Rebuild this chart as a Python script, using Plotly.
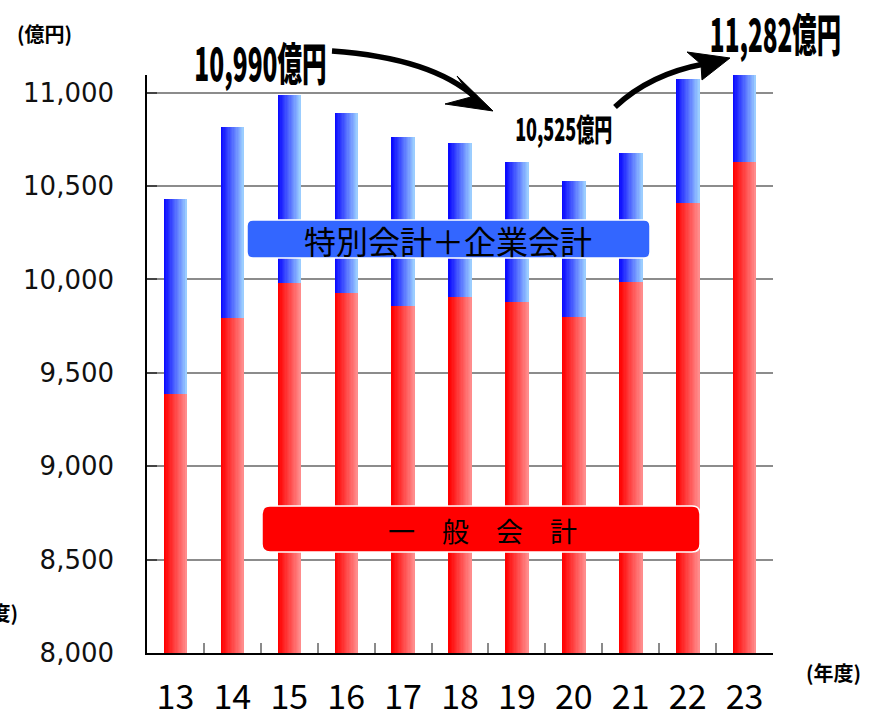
import json
import plotly.graph_objects as go

# Fiscal years (Heisei) and budget totals, in 100 million yen
years = ["13", "14", "15", "16", "17", "18", "19", "20", "21", "22", "23"]
total_budget = [10429, 10817, 10990, 10892, 10763, 10731, 10629, 10525, 10676, 11072, 11282]
general_account = [9385, 9794, 9981, 9928, 9858, 9906, 9879, 9799, 9986, 10410, 10628]
special_and_enterprise = [t - g for t, g in zip(total_budget, general_account)]

y_ticks = [8000, 8500, 9000, 9500, 10000, 10500, 11000]

W, H = 872, 720
PL, PR, PT, PB = 147, 773, 75, 653


def px(x):
    return (x - PL) / (PR - PL)


def py(y):
    return (PB - y) / (PB - PT)


def path(cmds):
    out = []
    for c in cmds:
        if isinstance(c, str):
            out.append(c)
        else:
            out.append(f"{px(c[0]):.5f},{py(c[1]):.5f}")
    return " ".join(out)


def rounded_rect(x0, y0, x1, y1, r):
    return path([
        "M", (x0 + r, y0), "L", (x1 - r, y0), "Q", (x1, y0), (x1, y0 + r),
        "L", (x1, y1 - r), "Q", (x1, y1), (x1 - r, y1),
        "L", (x0 + r, y1), "Q", (x0, y1), (x0, y1 - r),
        "L", (x0, y0 + r), "Q", (x0, y0), (x0 + r, y0), "Z",
    ])


def mix(c0, c1, t):
    return "rgb({},{},{})".format(*[round(a + (b - a) * t) for a, b in zip(c0, c1)])


fig = go.Figure()

# Horizontal gradient bars built from stacked slices
N = 18
BW = 0.41
segments = [
    (general_account, None, (255, 0, 0), (255, 140, 140)),
    (special_and_enterprise, general_account, (10, 10, 255), (155, 205, 255)),
]
for vals, base, c0, c1 in segments:
    for i in range(N):
        t = i / (N - 1)
        fig.add_bar(
            x=years, y=vals, base=base,
            offset=-BW / 2 + i * BW / N, width=BW - i * BW / N,
            marker=dict(color=mix(c0, c1, t), line=dict(width=0)),
            hoverinfo="skip", showlegend=False,
        )

shapes = []
# Label boxes
shapes.append(dict(type="path", xref="paper", yref="paper", layer="above",
                   path=rounded_rect(247, 220, 650, 258, 6),
                   fillcolor="#3366FF", line=dict(color="white", width=1.5)))
shapes.append(dict(type="path", xref="paper", yref="paper", layer="above",
                   path=rounded_rect(262, 506, 700, 552, 8),
                   fillcolor="#FF0000", line=dict(color="white", width=1.5)))
# Curved arrows
shapes.append(dict(type="path", xref="paper", yref="paper", layer="above",
                   path=path(["M", (332, 51), "Q", (432, 58), (476, 98)]),
                   line=dict(color="black", width=5.5)))
shapes.append(dict(type="path", xref="paper", yref="paper", layer="above",
                   path=path(["M", (493, 111), "L", (457, 76), "L", (471, 97),
                              "L", (445, 104), "Z"]),
                   fillcolor="black", line=dict(color="black", width=1)))
shapes.append(dict(type="path", xref="paper", yref="paper", layer="above",
                   path=path(["M", (615, 107), "Q", (650, 74), (704, 64)]),
                   line=dict(color="black", width=5.5)))
shapes.append(dict(type="path", xref="paper", yref="paper", layer="above",
                   path=path(["M", (730, 58), "L", (687, 52), "L", (701, 64),
                              "L", (702, 80), "Z"]),
                   fillcolor="black", line=dict(color="black", width=1)))

JP = "Noto Sans CJK JP"


def note(text, x, y, size, weight="normal", xanchor="center", color="black"):
    return dict(text=text, x=px(x), y=py(y), xref="paper", yref="paper",
                xanchor=xanchor, yanchor="middle", showarrow=False,
                font=dict(family=JP, size=size, color=color, weight=weight))


annotations = [
    note("特別会計＋企業会計", 448, 240, 32),
    note("一　般　会　計", 482, 530, 27),
    note("10,990億円", 260, 62, 45, weight=900),
    note("10,525億円", 563, 128, 31, weight=900),
    note("11,282億円", 775, 32, 45, weight=900),
    note("(億円)", 44, 33, 20, weight="bold"),
    note("(年度)", 833, 672, 20, weight="bold"),
    note("(年度)", 20, 612, 20, weight="bold", xanchor="right"),
]

# Horizontal squeeze for the headline amounts
squeeze = {"10,990億円": 0.545, "10,525億円": 0.58, "11,282億円": 0.54}

fig.update_layout(
    width=W, height=H,
    margin=dict(l=PL, r=W - PR, t=PT, b=H - PB, pad=0),
    paper_bgcolor="white", plot_bgcolor="white",
    barmode="overlay", bargap=0,
    shapes=shapes, annotations=annotations,
    xaxis=dict(
        type="category", range=[-0.5, 10.5], automargin=False,
        showline=True, linecolor="black", linewidth=1.5,
        ticks="inside", tickson="boundaries", ticklen=10,
        tickcolor="#8a8a8a", tickwidth=1.5,
        showgrid=False,
        tickfont=dict(family=JP, size=34, color="black"),
        ticklabelstandoff=13,
    ),
    yaxis=dict(
        range=[8000, 11095], tickvals=y_ticks, tickformat=",", automargin=False,
        showline=True, linecolor="black", linewidth=1.5,
        ticks="inside", ticklen=10, tickcolor="#444444", tickwidth=1.5,
        showgrid=True, gridcolor="#8c8c8c", gridwidth=1.5,
        zeroline=False,
        tickfont=dict(family="DejaVu Sans", size=26, color="#111111"),
        ticklabelstandoff=26,
    ),
)

post = """
(function(){
  var gd = document.getElementById('{plot_id}');
  var factors = %s;
  function squeeze(){
    gd.querySelectorAll('text.annotation-text').forEach(function(el){
      var f = factors[el.textContent];
      if (f) {
        el.style.transformBox = 'fill-box';
        el.style.transformOrigin = 'center';
        el.style.transform = 'scaleX(' + f + ')';
      }
    });
  }
  squeeze();
  if (gd.on) { gd.on('plotly_afterplot', squeeze); }
})();
""" % json.dumps(squeeze, ensure_ascii=False)

fig.write_html("out.html", post_script=post)
